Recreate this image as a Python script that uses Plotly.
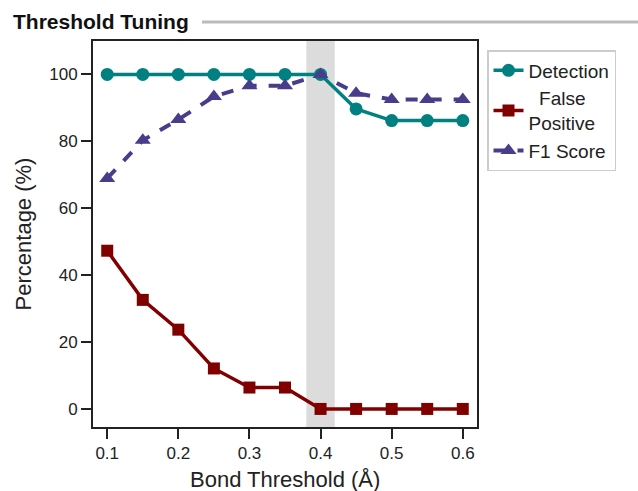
import plotly.graph_objects as go

thresholds = [0.1, 0.15, 0.2, 0.25, 0.3, 0.35, 0.4, 0.45, 0.5, 0.55, 0.6]
detection = [100, 100, 100, 100, 100, 100, 100, 89.7, 86.2, 86.2, 86.2]
false_positive = [47.3, 32.6, 23.7, 12.1, 6.4, 6.4, 0, 0, 0, 0, 0]
f1_score = [68.9, 80.3, 86.5, 93.4, 96.6, 96.6, 100, 94.4, 92.5, 92.5, 92.5]
x_ticks = [0.1, 0.2, 0.3, 0.4, 0.5, 0.6]
y_ticks = [0, 20, 40, 60, 80, 100]
band = [0.38, 0.42]

FONT = "Liberation Sans, Arial, sans-serif"
L, R, T, B = 93, 477, 41, 427
PW, PH = R - L, B - T

fig = go.Figure()
fig.add_vrect(x0=band[0], x1=band[1], fillcolor="#dcdcdc", opacity=1,
              line_width=0, layer="below")
fig.add_trace(go.Scatter(x=thresholds, y=detection, name="Detection",
                         mode="lines+markers",
                         line=dict(color="#008080", width=3.5),
                         marker=dict(symbol="circle", size=13, color="#008080")))
fig.add_trace(go.Scatter(x=thresholds, y=false_positive, name="\u00a0\u00a0False<br>Positive",
                         mode="lines+markers",
                         line=dict(color="#800000", width=3.5),
                         marker=dict(symbol="square", size=12, color="#800000")))
fig.add_trace(go.Scatter(x=thresholds, y=f1_score, name="F1 Score",
                         mode="lines+markers",
                         line=dict(color="#483D8B", width=4, dash="dash"),
                         marker=dict(symbol="triangle-up", size=14, color="#483D8B")))

fig.update_layout(
    width=638, height=491,
    margin=dict(l=L, r=638 - R, t=T, b=491 - B, autoexpand=False),
    paper_bgcolor="white", plot_bgcolor="white",
    font=dict(family=FONT, color="#222", size=17),
    showlegend=True,
    legend=dict(x=(487 - L) / PW, y=(B - 50) / PH, xanchor="left", yanchor="top",
                bordercolor="#cccccc", borderwidth=1.5,
                font=dict(size=19, color="#222"), tracegroupgap=0),
    xaxis=dict(range=[0.08, 0.62], tickvals=x_ticks, ticktext=[f"{v:.1f}" for v in x_ticks],
               showgrid=False, zeroline=False, showline=True, linecolor="#222",
               linewidth=2, mirror=True, ticks="outside", ticklen=10, tickwidth=2,
               tickcolor="#222", tickfont=dict(size=17), automargin=False),
    yaxis=dict(range=[-5.4, 110], tickvals=y_ticks, showgrid=False, zeroline=False,
               showline=True, linecolor="#222", linewidth=2, mirror=True,
               ticks="outside", ticklen=10, tickwidth=2, tickcolor="#222",
               tickfont=dict(size=17), automargin=False,
               title=dict(text="Percentage (%)", font=dict(size=22), standoff=12)),
)
fig.add_annotation(text="Bond Threshold (Å)", xref="paper", yref="paper",
                   x=0.5, y=(B - 479) / PH, xanchor="center", yanchor="middle",
                   showarrow=False, font=dict(size=22, color="#222", family=FONT))
fig.add_annotation(text="<b>Threshold Tuning</b>", xref="paper", yref="paper",
                   x=(11 - L) / PW, y=(B - 21) / PH, xanchor="left", yanchor="middle",
                   showarrow=False, font=dict(size=21, color="#111", family=FONT))
fig.add_shape(type="line", xref="paper", yref="paper",
              x0=(202 - L) / PW, x1=(640 - L) / PW,
              y0=(B - 22) / PH, y1=(B - 22) / PH,
              line=dict(color="#bbbbbb", width=3))

fig.write_html("out.html", config={"displayModeBar": False},
               post_script="document.body.style.margin='0';")
